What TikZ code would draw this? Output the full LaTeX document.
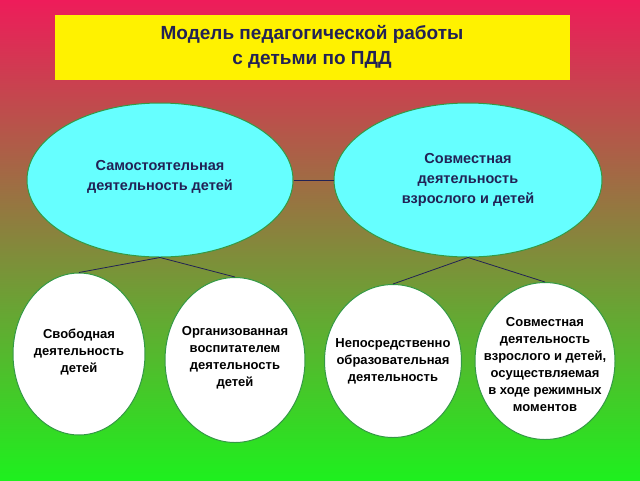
\documentclass[tikz,border=0pt]{standalone}
\usepackage{fontspec}
\setmainfont{Liberation Sans}
\usetikzlibrary{shapes.geometric}
\definecolor{navy}{HTML}{222255}
\definecolor{rim}{HTML}{339944}
\definecolor{skyfill}{HTML}{66FFFF}
\tikzset{
    big/.style={ellipse, draw=rim, line width=1pt, fill=skyfill, minimum width=266pt, minimum height=154pt},
    bigtext/.style={align=center, font=\bfseries\fontsize{14.5}{20}\selectfont, text=navy},
    small/.style={ellipse, draw=rim, line width=1pt, fill=white, minimum width=136pt, minimum height=162pt, inner sep=0pt},
    smalltext/.style={align=center, font=\bfseries\fontsize{13}{17}\selectfont, text=black},
    link/.style={draw=navy, line width=0.8pt}
}
\begin{document}
\begin{tikzpicture}[x=1pt, y=-1pt]
    \useasboundingbox (0,0) rectangle (640,480);
    \shade[top color={rgb,255:red,238;green,28;blue,90}, middle color={rgb,255:red,205;green,150;blue,60}, bottom color={rgb,255:red,30;green,240;blue,30}] (0,0) rectangle (640,480);

    % title
    \node[fill=yellow, minimum width=515pt, minimum height=65pt, align=center, font=\bfseries\fontsize{19}{25}\selectfont, text=navy] (title) at (312,47) {Модель педагогической работы\\с детьми по ПДД};

    % main ellipses
    \node[big] (self) at (160,180) {};
    \node[bigtext] (selft) at (160,177) {Самостоятельная\\деятельность детей};
    \node[big, minimum width=268pt] (joint) at (468,180) {};
    \node[bigtext] (jointt) at (468,180) {Совместная\\деятельность\\взрослого и детей};
    \draw[link] (self) -- (joint);

    % lower ellipses
    \node[small, minimum width=132pt] (free) at (79,354) {};
    \node[smalltext] (freet) at (79,352) {Свободная\\деятельность\\детей};
    \node[small, minimum width=140pt, minimum height=165pt] (org) at (235,360) {};
    \node[smalltext] (orgt) at (235,358) {Организованная\\воспитателем\\деятельность\\детей};
    \node[small, minimum width=137pt, minimum height=153pt] (direct) at (393,361) {};
    \node[smalltext] (directt) at (393,361) {Непосредственно\\образовательная\\деятельность};
    \node[small, minimum width=140pt, minimum height=157pt] (mode) at (545,361) {};
    \node[smalltext] (modet) at (545,365) {Совместная\\деятельность\\взрослого и детей,\\осуществляемая\\в ходе режимных\\моментов};

    \draw[link] (self.south) -- (free.north);
    \draw[link] (self.south) -- (org.north);
    \draw[link] (joint.south) -- (direct.north);
    \draw[link] (joint.south) -- (mode.north);
\end{tikzpicture}
\end{document}
